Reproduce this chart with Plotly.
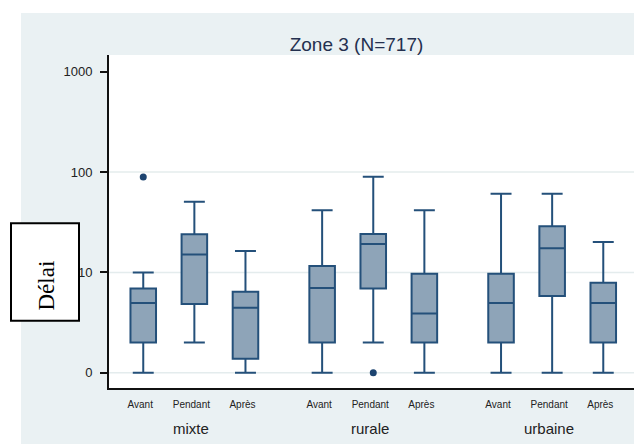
import plotly.graph_objects as go

# ---- data ----
groups = ["mixte", "rurale", "urbaine"]
periods = ["Avant", "Pendant", "Après"]
positions = [0, 1, 2, 3.5, 4.5, 5.5, 7, 8, 9]
group_centers = [1, 4.5, 8]

q1 =         [2.0, 4.85, 1.38, 2.0, 6.9, 2.0, 2.0, 5.8, 2.0]
median =     [4.95, 15.1, 4.45, 7.0, 19.2, 3.9, 4.95, 17.4, 4.95]
q3 =         [6.9, 24.0, 6.4, 11.6, 24.1, 9.7, 9.7, 28.8, 7.9]
lowerfence = [1.0, 2.0, 1.0, 1.0, 2.0, 1.0, 1.0, 1.0, 1.0]
upperfence = [10.0, 50.7, 16.3, 41.6, 90.0, 41.6, 60.9, 60.9, 20.1]

outlier_pos = [0, 4.5]
outlier_val = [89.4, 1.0]

ytick_vals = [1, 10, 100, 1000]
ytick_text = ["0", "10", "100", "1000"]
grid_vals = [1, 10, 100]

# ---- layout geometry (pixels, in page coords; page body adds an 8px offset) ----
OFF = 8
W, H = 642 - OFF, 444 - OFF
L, R, T, B = 109 - OFF, 637 - OFF, 55 - OFF, 388 - OFF
def px2x(px):
    return (px - OFF - L) / (R - L)
def px2y(py):
    return (B - (py - OFF)) / (B - T)

LINE = "#24507a"
FILL = "#8ea4b8"
BG = "#eaf1f3"

fig = go.Figure()
for i, p in enumerate(positions):
    fig.add_trace(go.Box(
        x=[p], q1=[q1[i]], median=[median[i]], q3=[q3[i]],
        lowerfence=[lowerfence[i]], upperfence=[upperfence[i]],
        width=0.5, whiskerwidth=0.82,
        fillcolor=FILL, line=dict(color=LINE, width=2),
        boxpoints=False, showlegend=False, hoverinfo="skip",
    ))

fig.add_trace(go.Scatter(
    x=outlier_pos, y=outlier_val, mode="markers",
    marker=dict(color="#1d4470", size=7),
    showlegend=False, hoverinfo="skip",
))

shapes = []
for g in grid_vals:
    shapes.append(dict(type="line", xref="x domain", yref="y", x0=0, x1=1,
                       y0=g, y1=g, line=dict(color="#e4eced", width=1.5),
                       layer="below"))
# white outer strips (page margin outside the light panel)
shapes.append(dict(type="rect", xref="paper", yref="paper",
                   x0=px2x(0), x1=px2x(21), y0=px2y(450), y1=px2y(0),
                   fillcolor="white", line=dict(width=0), layer="above"))
shapes.append(dict(type="rect", xref="paper", yref="paper",
                   x0=px2x(0), x1=px2x(650), y0=px2y(13), y1=px2y(0),
                   fillcolor="white", line=dict(width=0), layer="above"))
# box around the y title
shapes.append(dict(type="rect", xref="paper", yref="paper",
                   x0=px2x(11), x1=px2x(79), y0=px2y(320.7), y1=px2y(223.3),
                   fillcolor="white", line=dict(color="black", width=2),
                   layer="above"))

annotations = [dict(
    text="Délai", xref="paper", yref="paper",
    x=px2x(45.5), y=px2y(286), xanchor="center", yanchor="middle",
    textangle=-90, showarrow=False,
    font=dict(family="Liberation Serif, Times New Roman, serif", size=23, color="black"),
)]
for g, c in zip(groups, group_centers):
    annotations.append(dict(
        text=g, xref="x", yref="paper", x=c, y=px2y(428),
        xanchor="center", yanchor="middle", xshift=-3, showarrow=False,
        font=dict(family="Liberation Sans, Arial, sans-serif", size=15, color="#222222"),
    ))

fig.update_layout(
    width=W, height=H,
    margin=dict(l=L, r=W - R, t=T, b=H - B, pad=0),
    paper_bgcolor=BG, plot_bgcolor="white",
    font=dict(family="Liberation Sans, Arial, sans-serif", color="#222222"),
    title=dict(text="Zone 3 (N=717)", xref="paper", x=px2x(356.5), xanchor="center",
               yref="container", y=1 - (44.5 - OFF) / H, yanchor="middle",
               font=dict(size=19, color="#24304f")),
    shapes=shapes, annotations=annotations,
    xaxis=dict(
        range=[-0.67, 9.66], tickmode="array",
        tickvals=positions, ticktext=periods * 3,
        ticks="outside", ticklen=6, tickcolor="rgba(0,0,0,0)",
        ticklabelshift=-3,
        tickfont=dict(size=10, color="#222222"),
        showline=True, linecolor="#111111", linewidth=2,
        showgrid=False, zeroline=False, fixedrange=True,
    ),
    yaxis=dict(
        type="log", range=[-0.153, 3.168], tickmode="array",
        tickvals=ytick_vals, ticktext=ytick_text,
        ticks="outside", ticklen=7, tickwidth=2, tickcolor="#111111",
        ticklabelstandoff=5,
        tickfont=dict(size=13, color="#222222"),
        showline=True, linecolor="#111111", linewidth=2,
        showgrid=False, zeroline=False, fixedrange=True,
    ),
)

fig.write_html("out.html")
